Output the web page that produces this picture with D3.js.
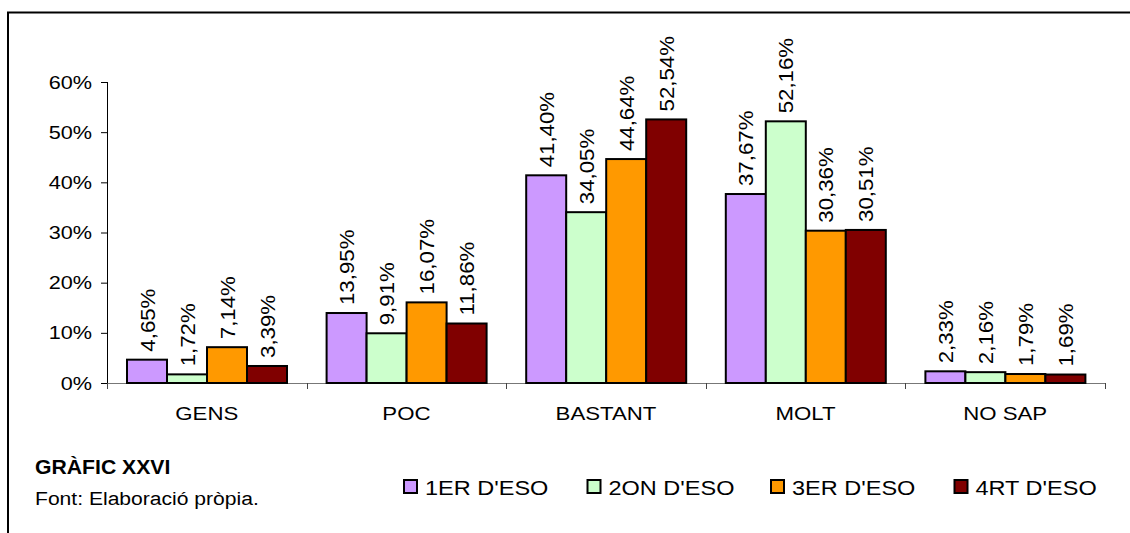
<!DOCTYPE html>
<html>
<head>
<meta charset="utf-8">
<script src="https://cdnjs.cloudflare.com/ajax/libs/d3/7.8.5/d3.min.js"></script>
<style>
  body { margin: 0; background: #fff; }
  svg { display: block; font-family: Arial, "Liberation Sans", sans-serif; }
</style>
</head>
<body>
<svg id="grafic" width="1130" height="533"></svg>
<script>
var categories = ['GENS', 'POC', 'BASTANT', 'MOLT', 'NO SAP'];
var series = ["1ER D'ESO", "2ON D'ESO", "3ER D'ESO", "4RT D'ESO"];
var cores = ['#CC99FF', '#CCFFCC', '#FF9900', '#800000'];

// valors per curs, en el mateix ordre que categories
var curs1 = [4.65, 13.95, 41.40, 37.67, 2.33];
var curs2 = [1.72, 9.91, 34.05, 52.16, 2.16];
var curs3 = [7.14, 16.07, 44.64, 30.36, 1.79];
var curs4 = [3.39, 11.86, 52.54, 30.51, 1.69];
var valors = [curs1, curs2, curs3, curs4];

var yTicks = [0, 10, 20, 30, 40, 50, 60];

// el text de l'original esta una mica eixamplat
var ample = 1.14;

var svg = d3.select('#grafic');

// marc
svg.append('path')
    .attr('d', 'M8,533 V12.5 H1130')
    .attr('fill', 'none')
    .attr('stroke', '#000')
    .attr('stroke-width', 2);

var x = d3.scaleBand().domain(categories).range([107, 1105]);
var x1 = d3.scaleBand().domain(series).range([20, 180]);
var y = d3.scaleLinear().domain([0, 60]).range([383, 82]);

function fmt(v) {
    return v.toFixed(2).replace('.', ',') + '%';
}

// eix Y
var eixY = svg.append('g')
    .attr('transform', 'translate(107,0)')
    .call(d3.axisLeft(y).tickValues(yTicks).tickSize(6)
        .tickFormat(function (d) { return d + '%'; }));
eixY.select('.domain').attr('d', 'M0.5,' + y(60) + 'V' + (y(0) + 6));
eixY.selectAll('text')
    .attr('x', 0)
    .attr('transform', 'translate(-15,0) scale(' + ample + ',1)')
    .attr('font-size', 19)
    .attr('font-family', 'Arial, "Liberation Sans", sans-serif')
    .attr('fill', '#000');
eixY.selectAll('line').attr('stroke', '#000');

// eix X
var limits = categories.map(function (c) { return x(c); }).concat([x.range()[1]]);
var eixX = svg.append('g');
eixX.append('line')
    .attr('x1', 107).attr('x2', x.range()[1])
    .attr('y1', y(0) + 0.5).attr('y2', y(0) + 0.5)
    .attr('stroke', '#777');
eixX.selectAll('.tk')
    .data(limits)
    .enter()
    .append('line')
    .attr('x1', function (d) { return Math.round(d) + 0.5; })
    .attr('x2', function (d) { return Math.round(d) + 0.5; })
    .attr('y1', y(0)).attr('y2', y(0) + 6)
    .attr('stroke', '#444');
eixX.selectAll('text')
    .data(categories)
    .enter()
    .append('text')
    .attr('transform', function (d) {
        return 'translate(' + (x(d) + x.bandwidth() / 2) + ',420) scale(1.17,1)';
    })
    .attr('text-anchor', 'middle')
    .attr('font-size', 19)
    .text(function (d) { return d; });

// barres
var grups = svg.selectAll('.grup')
    .data(categories)
    .enter()
    .append('g')
    .attr('transform', function (d) { return 'translate(' + x(d) + ',0)'; });

grups.selectAll('rect')
    .data(function (d, i) {
        return series.map(function (s, j) { return { serie: s, idx: j, valor: valors[j][i] }; });
    })
    .enter()
    .append('rect')
    .attr('x', function (d) { return x1(d.serie); })
    .attr('y', function (d) { return y(d.valor); })
    .attr('width', x1.bandwidth())
    .attr('height', function (d) { return y(0) - y(d.valor); })
    .style('fill', function (d) { return cores[d.idx]; })
    .attr('stroke', '#000')
    .attr('stroke-width', 2);

grups.selectAll('.etiqueta')
    .data(function (d, i) {
        return series.map(function (s, j) { return { serie: s, valor: valors[j][i] }; });
    })
    .enter()
    .append('text')
    .attr('class', 'etiqueta')
    .attr('transform', function (d) {
        return 'translate(' + (x1(d.serie) + x1.bandwidth() / 2) + ',' + (y(d.valor) - 8) + ') rotate(-90) scale(1.06,1)';
    })
    .attr('dy', '0.36em')
    .attr('font-size', 21)
    .text(function (d) { return fmt(d.valor); });

// llegenda
var llegenda = svg.selectAll('.llegenda')
    .data(series)
    .enter()
    .append('g')
    .attr('transform', function (d, i) { return 'translate(' + (404 + i * 183.5) + ',480)'; });

llegenda.append('rect')
    .attr('width', 13).attr('height', 13)
    .style('fill', function (d, i) { return cores[i]; })
    .attr('stroke', '#000')
    .attr('stroke-width', 2);

llegenda.append('text')
    .attr('transform', 'translate(21,15) scale(1.12,1)')
    .attr('font-size', 21)
    .text(function (d) { return d; });

// títol i font
svg.append('text')
    .attr('transform', 'translate(35,474) scale(1.06,1)')
    .attr('font-size', 20)
    .attr('font-weight', 'bold')
    .text('GRÀFIC XXVI');

svg.append('text')
    .attr('transform', 'translate(35,505) scale(1.11,1)')
    .attr('font-size', 19)
    .text('Font: Elaboració pròpia.');
</script>
</body>
</html>
